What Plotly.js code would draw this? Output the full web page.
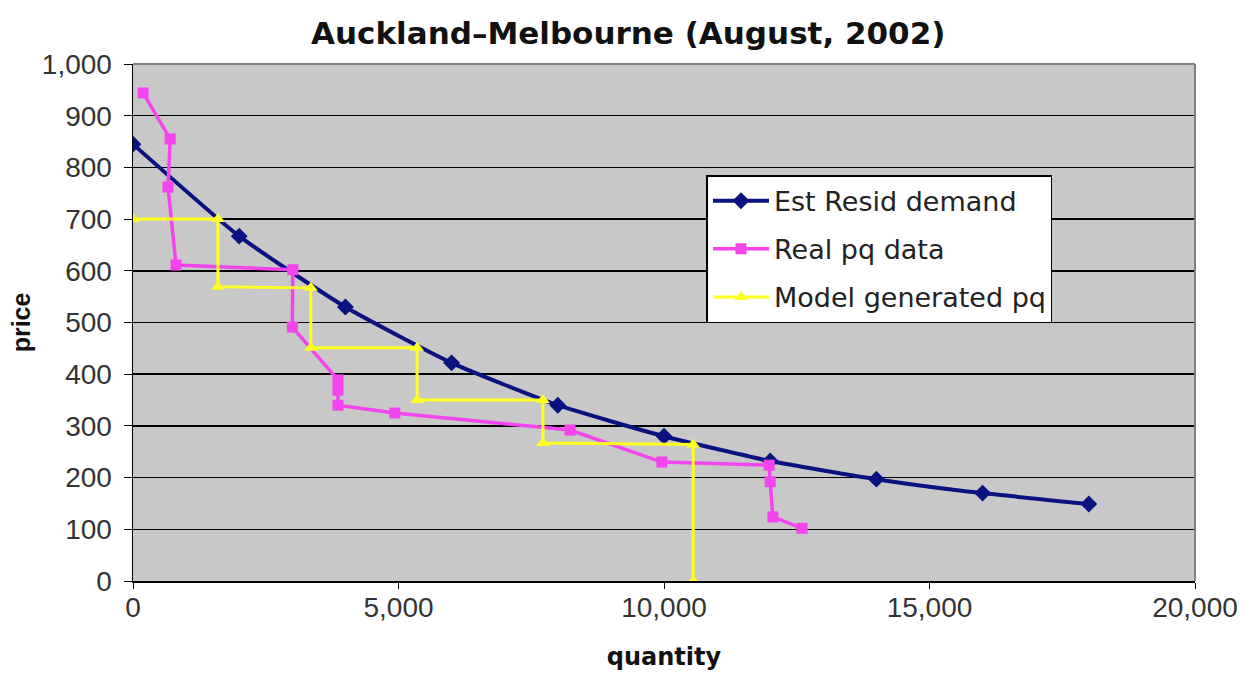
<!DOCTYPE html>
<html>
<head>
<meta charset="utf-8">
<script src="https://cdn.plot.ly/plotly-3.0.1.min.js"></script>
<style>html,body{margin:0;padding:0;background:#fff;}#chart{width:1249px;height:683px;}</style>
</head>
<body>
<div id="chart"></div>
<script>
// Est Resid demand
const demandQ = [0, 2000, 4000, 6000, 8000, 10000, 12000, 14000, 16000, 18000];
const demandP = [845, 667, 530, 422, 340, 280, 232, 197, 170, 149];

// Real pq data
const realQ = [190, 700, 660, 810, 3010, 3000, 3860, 3860, 3860, 4930, 8230, 9960, 11980, 12000, 12050, 12600];
const realP = [944, 855, 762, 611, 602, 491, 389, 369, 340, 325, 292, 230, 224, 192, 124, 102];

// Model generated pq
const modelQ = [0, 1600, 1600, 3350, 3350, 5350, 5350, 7720, 7720, 10550, 10550];
const modelP = [700, 700, 569, 567, 451, 451, 350, 350, 267, 264, 0];

const xTicks = [0, 5000, 10000, 15000, 20000];
const yTicks = [0, 100, 200, 300, 400, 500, 600, 700, 800, 900, 1000];

const traces = [
  {x: demandQ, y: demandP, name: 'Est Resid demand', type: 'scatter', mode: 'lines+markers',
   line: {color: '#0A1280', width: 4, shape: 'spline', smoothing: 0.5},
   marker: {symbol: 'diamond', size: 13, color: '#0A1280'}, legendgroup: 'a'},
  {x: realQ, y: realP, name: 'Real pq data', type: 'scatter', mode: 'lines+markers',
   line: {color: '#F444EE', width: 3.5}, marker: {symbol: 'square', size: 11, color: '#F444EE'}, legendgroup: 'b'},
  {x: modelQ, y: modelP, name: 'Model generated pq', type: 'scatter', mode: 'lines+markers',
   line: {color: '#FFFF22', width: 3}, marker: {symbol: 'triangle-up', size: 12, color: '#FFFF22'}, legendgroup: 'c'}
];

const layout = {
  width: 1249, height: 683,
  margin: {l: 133, r: 54, t: 64, b: 102},
  paper_bgcolor: '#ffffff',
  plot_bgcolor: '#C8C8C8',
  font: {family: 'Liberation Sans, Arial, sans-serif', color: '#222'},
  title: {text: '<b>Auckland\u2013Melbourne (August, 2002)</b>', x: 0.503, xanchor: 'center', y: 0.952, yanchor: 'middle',
          font: {size: 31, color: '#111', family: 'DejaVu Sans, sans-serif'}},
  showlegend: true,
  legend: {x: 0.54, y: 0.785, xanchor: 'left', yanchor: 'top', bgcolor: '#ffffff', bordercolor: '#000', borderwidth: 1.5,
           font: {size: 27, color: '#222', family: 'DejaVu Sans, sans-serif'}, tracegroupgap: 10, itemwidth: 56},
  xaxis: {range: [0, 20000], tickvals: xTicks, tickformat: ',', ticks: 'outside', ticklen: 6, tickcolor: '#000',
          showline: true, linecolor: '#000', linewidth: 1.5, showgrid: false, zeroline: false,
          tickfont: {size: 28, color: '#333'}, ticklabelstandoff: -5,
          title: {text: '<b>quantity</b>', font: {size: 24, color: '#111', family: 'DejaVu Sans, sans-serif'}, standoff: 26}},
  yaxis: {range: [0, 1000], tickvals: yTicks, tickformat: ',', ticks: 'outside', ticklen: 8, tickcolor: '#000',
          showline: true, linecolor: '#000', linewidth: 1.5, showgrid: true, gridcolor: '#000', gridwidth: 1.5, zeroline: false,
          tickfont: {size: 28, color: '#333'}, ticklabelstandoff: 6,
          title: {text: '<b>price</b>', font: {size: 25, color: '#111'}, standoff: 4}},
  shapes: [
    {type: 'line', xref: 'paper', yref: 'paper', x0: 0, x1: 1, y0: 1, y1: 1, line: {color: '#808080', width: 2}},
    {type: 'line', xref: 'paper', yref: 'paper', x0: 1, x1: 1, y0: 0, y1: 1, line: {color: '#808080', width: 2}}
  ]
};

Plotly.newPlot('chart', traces, layout, {displayModeBar: false, staticPlot: true});
</script>
</body>
</html>
